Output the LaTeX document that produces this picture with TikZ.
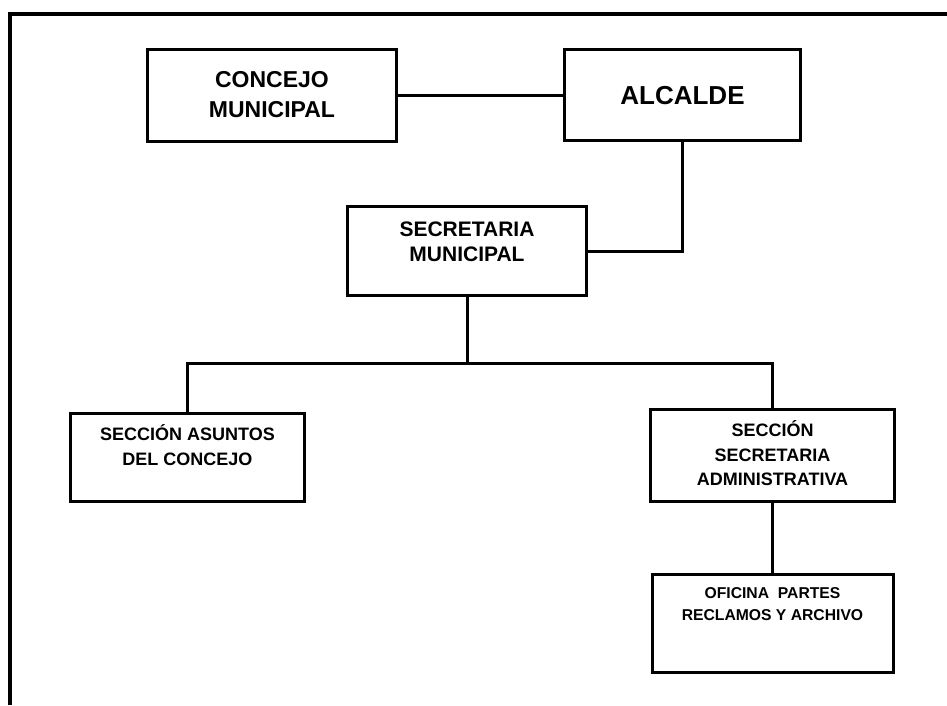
\documentclass[tikz,border=0pt]{standalone}
\usepackage{fontspec}
\setmainfont{Liberation Sans}
\usepackage{tikz}

\begin{document}
\begin{tikzpicture}[x=1pt, y=-1pt,
        caja/.style={draw, rectangle, line width=3pt, inner sep=0pt, align=center, font=\bfseries},
        linea/.style={line width=3pt}]
        \useasboundingbox (0,0) rectangle (947,705);
        \draw[line width=4pt] (947,14) -- (10,14) -- (10,705);

        \node[caja, minimum width=249pt, minimum height=92pt, text height=45pt, text depth=0pt,
              font=\bfseries\fontsize{23}{30}\selectfont] (concejo) at (272,95) {CONCEJO\\MUNICIPAL};
        \node[caja, minimum width=236pt, minimum height=91pt, text height=18.6pt, text depth=0pt,
              font=\bfseries\fontsize{26}{30}\selectfont] (alcalde) at (682.5,95) {ALCALDE};

        \node[caja, minimum width=239pt, minimum height=89pt, text height=21.6pt, text depth=0pt,
              font=\bfseries\fontsize{21}{25.3}\selectfont] (secmun) at (467,251) {SECRETARIA\\MUNICIPAL};

        \node[caja, minimum width=234pt, minimum height=88pt, text height=15pt, text depth=0pt,
              font=\bfseries\fontsize{18}{24.5}\selectfont] (secasu) at (187.5,457.5) {SECCIÓN ASUNTOS\\DEL CONCEJO};
        \node[caja, minimum width=244pt, minimum height=92pt, text height=60.4pt, text depth=0pt,
              font=\bfseries\fontsize{18}{24.7}\selectfont] (secadm) at (772.5,455.5) {SECCIÓN\\SECRETARIA\\ADMINISTRATIVA};

        \node[caja, minimum width=241pt, minimum height=98pt, text height=0pt, text depth=5.8pt,
              font=\bfseries\fontsize{15.7}{21.7}\selectfont] (oficina) at (772.5,623.5) {OFICINA~ PARTES\\RECLAMOS Y ARCHIVO};

        \coordinate (bus) at (467,363);

        \draw[linea] (concejo) -- (alcalde);
        \draw[linea] (alcalde.south) |- (secmun.east);
        \draw[linea] (secmun.south) -- (bus);
        \draw[linea] (secasu.north) |- (bus) -| (secadm.north);
        \draw[linea] (secadm.south) -- (oficina.north);
    \end{tikzpicture}
\end{document}
